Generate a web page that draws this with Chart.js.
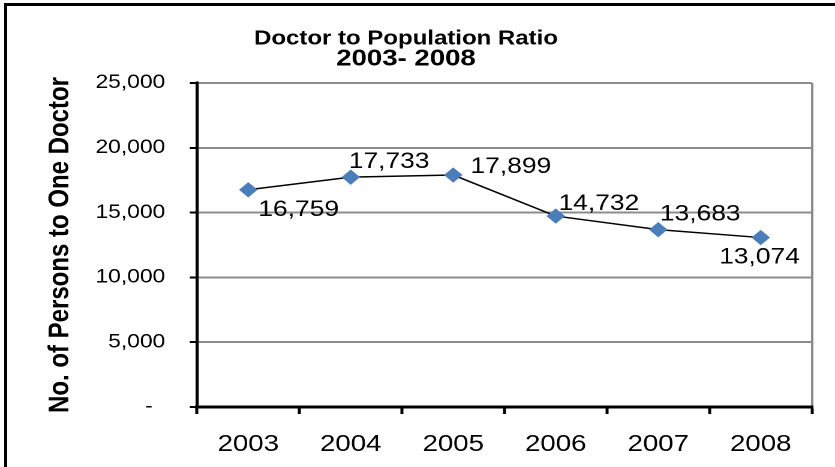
<!DOCTYPE html>
<html>
<head>
<meta charset="utf-8">
<script src="https://cdn.jsdelivr.net/npm/chart.js@4"></script>
<style>
  body { margin: 0; overflow: hidden; background: #fff; }
  #marco { position: absolute; left: 4px; top: 3px; width: 900px; height: 500px; border: 3px solid #000; }
  #contenedor { position: absolute; left: 0; top: 0; width: 696px; height: 467px; transform: scaleX(1.19971); transform-origin: 0 0; }
</style>
</head>
<body>
<div id="marco"></div>
<div id="contenedor"><canvas id="graficoRatio"></canvas></div>
<script>
// Datos del grafico
const anios = ['2003', '2004', '2005', '2006', '2007', '2008'];
const personasPorMedico = [16759, 17733, 17899, 14732, 13683, 13074];
const valoresEjeY = [0, 5000, 10000, 15000, 20000, 25000];
const titulo = 'Doctor to Population Ratio';
const subtitulo = '2003- 2008';
const tituloEjeY = 'No. of Persons to One Doctor';

Chart.defaults.font.family = "'Liberation Sans', Arial, sans-serif";
Chart.defaults.color = '#000';

// Desplazamiento de cada etiqueta respecto a su punto
const desplazamientos = [[42, 20], [32, -15], [48, -8], [36, -12], [35, -15], [-1, 20]];

// Plugin para dibujar los valores junto a cada punto
const etiquetasValores = {
    id: 'etiquetasValores',
    afterDatasetsDraw(chart) {
        const ctx = chart.ctx;
        const meta = chart.getDatasetMeta(0);
        ctx.save();
        ctx.font = "22px 'Liberation Sans', Arial, sans-serif";
        ctx.fillStyle = '#000';
        ctx.textAlign = 'center';
        ctx.textBaseline = 'middle';
        meta.data.forEach((punto, i) => {
            const texto = chart.data.datasets[0].data[i].toLocaleString('en-US');
            const d = desplazamientos[i];
            ctx.fillText(texto, punto.x + d[0], punto.y + d[1]);
        });
        ctx.restore();
    }
};

const ctx = document.getElementById('graficoRatio').getContext('2d');

window.grafico = new Chart(ctx, {
    type: 'line',
    data: {
        labels: anios,
        datasets: [{
            data: personasPorMedico,
            borderColor: '#000',
            borderWidth: 1.5,
            pointStyle: 'rectRot',
            pointRadius: 7,
            pointBackgroundColor: '#4a7ebb',
            pointBorderColor: '#4a7ebb',
            pointBorderWidth: 1,
            tension: 0
        }]
    },
    options: {
        responsive: true,
        maintainAspectRatio: false,
        animation: false,
        devicePixelRatio: 2,
        layout: {
            padding: { left: 0, right: 19.2, top: 0, bottom: 0 }
        },
        plugins: {
            legend: { display: false },
            tooltip: { enabled: false },
            title: {
                display: true,
                text: titulo,
                color: '#000',
                font: { size: 20, weight: 'bold', lineHeight: '20px' },
                padding: { top: 29, bottom: 0 }
            },
            subtitle: {
                display: true,
                text: subtitulo,
                color: '#000',
                font: { size: 23, weight: 'bold', lineHeight: '20px' },
                padding: { top: 0, bottom: 14 }
            }
        },
        scales: {
            x: {
                offset: true,
                afterFit: function(scale) { scale.height = 60; },
                grid: {
                    offset: true,
                    drawOnChartArea: true,
                    // solo la linea del borde derecho del area
                    color: c => c.type === 'scale' ? '#8c8c8c' : 'transparent',
                    lineWidth: 2,
                    tickColor: '#000',
                    tickWidth: 2.5,
                    tickLength: 7
                },
                border: { color: '#000', width: 3 },
                ticks: {
                    color: '#000',
                    padding: 17,
                    font: { size: 23 }
                }
            },
            y: {
                min: valoresEjeY[0],
                max: valoresEjeY[valoresEjeY.length - 1],
                afterBuildTicks: function(scale) {
                    scale.ticks = valoresEjeY.map(v => ({ value: v }));
                },
                afterFit: function(scale) { scale.width = 164.2; },
                grid: {
                    color: c => c.tick && c.tick.value === 0 ? 'transparent' : '#8c8c8c',
                    lineWidth: 2,
                    tickColor: '#000',
                    tickWidth: 2,
                    tickLength: 6
                },
                border: { color: '#000', width: 2.6 },
                ticks: {
                    color: '#000',
                    padding: 20.5,
                    font: { size: 19 },
                    callback: v => v === 0 ? '-  ' : v.toLocaleString('en-US')
                },
                title: {
                    display: true,
                    text: tituloEjeY,
                    color: '#000',
                    font: { size: 24, weight: 'bold' },
                    padding: { top: 36, bottom: 0 }
                }
            }
        }
    },
    plugins: [etiquetasValores]
});
</script>
</body>
</html>
